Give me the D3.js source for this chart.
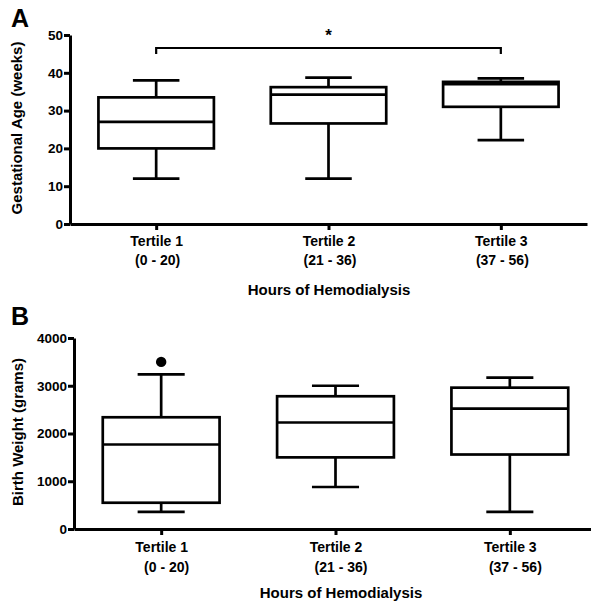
<!DOCTYPE html>
<html>
<head>
<meta charset="utf-8">
<script src="https://cdn.jsdelivr.net/npm/d3@7"></script>
<style>
  body { margin: 0; background: #fff; }
  svg { font-family: "Liberation Sans", Arial, sans-serif; font-weight: bold; }
</style>
</head>
<body>
<svg width="591" height="603"></svg>
<script>
const tertiles = ["Tertile 1", "Tertile 2", "Tertile 3"];
const hourRanges = ["(0 - 20)", "(21 - 36)", "(37 - 56)"];

// gestational age (weeks)
const gaMin = [12, 12, 22.2];
const gaQ1 = [20, 26.6, 31];
const gaMed = [27, 34.2, 37];
const gaQ3 = [33.5, 36.2, 37.6];
const gaMax = [38, 38.7, 38.5];
const gaTicks = [0, 10, 20, 30, 40, 50];

// birth weight (grams)
const bwMin = [360, 880, 360];
const bwQ1 = [550, 1500, 1560];
const bwMed = [1770, 2230, 2520];
const bwQ3 = [2340, 2780, 2960];
const bwMax = [3240, 3000, 3170];
const bwOutliers = [{ t: "Tertile 1", v: 3500 }];
const bwTicks = [0, 1000, 2000, 3000, 4000];

const svg = d3.select("svg");

function panel(opt) {
  const g = svg.append("g");
  const x = d3.scalePoint().domain(tertiles).range(opt.xr).padding(0.5);
  const y = d3.scaleLinear().domain(opt.yd).range(opt.yr);
  const step = x.step();
  const hw = step * 0.335, cw = step * 0.135;

  const rows = tertiles.map((t, i) => ({
    t, lo: opt.min[i], q1: opt.q1[i], med: opt.med[i], q3: opt.q3[i], hi: opt.max[i]
  }));

  // y axis
  const ya = g.append("g")
    .attr("transform", `translate(${opt.xr[0]},0)`)
    .call(d3.axisLeft(y).tickValues(opt.ticks).tickFormat(d3.format("d"))
      .tickSize(6).tickSizeOuter(0).tickPadding(1));
  ya.selectAll("path, line").attr("stroke-width", 3);
  ya.selectAll("text").style("font-size", "13.5px").style("font-weight", "bold").attr("fill", "#000");

  // x axis
  const xa = g.append("g")
    .attr("transform", `translate(0,${opt.yr[0]})`)
    .call(d3.axisBottom(x).tickSize(6).tickSizeOuter(0).tickFormat(""));
  xa.selectAll("path, line").attr("stroke-width", 3);
  xa.selectAll(".tick").each(function (d, i) {
    const tk = d3.select(this);
    tk.append("text").attr("y", opt.lab1).attr("text-anchor", "middle")
      .style("font-size", "14px").attr("fill", "#000").text(d);
    tk.append("text").attr("y", opt.lab2).attr("dx", opt.dx2).attr("text-anchor", "middle")
      .style("font-size", "14px").attr("fill", "#000").text(hourRanges[i]);
  });

  const bx = g.append("g").attr("fill", "none").attr("stroke", "#000").attr("stroke-width", 2.7);
  const b = bx.selectAll("g").data(rows).join("g");
  b.append("line")
    .attr("x1", d => x(d.t)).attr("x2", d => x(d.t))
    .attr("y1", d => y(d.hi)).attr("y2", d => y(d.q3));
  b.append("line")
    .attr("x1", d => x(d.t)).attr("x2", d => x(d.t))
    .attr("y1", d => y(d.q1)).attr("y2", d => y(d.lo));
  b.append("line")
    .attr("x1", d => x(d.t) - cw).attr("x2", d => x(d.t) + cw)
    .attr("y1", d => y(d.hi)).attr("y2", d => y(d.hi));
  b.append("line")
    .attr("x1", d => x(d.t) - cw).attr("x2", d => x(d.t) + cw)
    .attr("y1", d => y(d.lo)).attr("y2", d => y(d.lo));
  b.append("rect")
    .attr("x", d => x(d.t) - hw).attr("width", hw * 2)
    .attr("y", d => y(d.q3)).attr("height", d => y(d.q1) - y(d.q3))
    .attr("fill", "#fff");
  b.append("line")
    .attr("x1", d => x(d.t) - hw).attr("x2", d => x(d.t) + hw)
    .attr("y1", d => y(d.med)).attr("y2", d => y(d.med));

  // titles
  g.append("text")
    .attr("transform", `translate(${opt.ylx},${opt.yly}) rotate(-90)`)
    .attr("text-anchor", "middle").style("font-size", "15px").text(opt.ylabel);
  g.append("text")
    .attr("x", opt.xlx).attr("y", opt.xly)
    .attr("text-anchor", "middle").style("font-size", "15px").text("Hours of Hemodialysis");
  g.append("text")
    .attr("x", 11).attr("y", opt.lety)
    .style("font-size", "25px").text(opt.letter);

  return { g, x, y };
}

const A = panel({
  xr: [70, 587], yr: [224, 35], yd: [0, 50], ticks: gaTicks,
  min: gaMin, q1: gaQ1, med: gaMed, q3: gaQ3, max: gaMax,
  lab1: 22, lab2: 41, dx2: 1,
  ylabel: "Gestational Age (weeks)", ylx: 22, yly: 128,
  xlx: 329, xly: 295, letter: "A", lety: 27
});

// significance bracket tertile 1 vs 3
const bracketY = 48;
A.g.append("path")
  .attr("fill", "none").attr("stroke", "#000").attr("stroke-width", 2.2)
  .attr("d", `M${A.x("Tertile 1")},${bracketY + 6}V${bracketY}H${A.x("Tertile 3")}V${bracketY + 6}`);
A.g.append("text")
  .attr("x", A.x("Tertile 2")).attr("y", 41)
  .attr("text-anchor", "middle").style("font-size", "17px").text("*");

const B = panel({
  xr: [74, 597], yr: [529, 338], yd: [0, 4000], ticks: bwTicks,
  min: bwMin, q1: bwQ1, med: bwMed, q3: bwQ3, max: bwMax,
  lab1: 23, lab2: 43, dx2: 5,
  ylabel: "Birth Weight (grams)", ylx: 23, yly: 432,
  xlx: 341, xly: 598, letter: "B", lety: 325
});

B.g.selectAll("circle.out")
  .data(bwOutliers)
  .join("circle")
  .attr("class", "out")
  .attr("cx", d => B.x(d.t)).attr("cy", d => B.y(d.v))
  .attr("r", 5.2).attr("fill", "#000");
</script>
</body>
</html>
